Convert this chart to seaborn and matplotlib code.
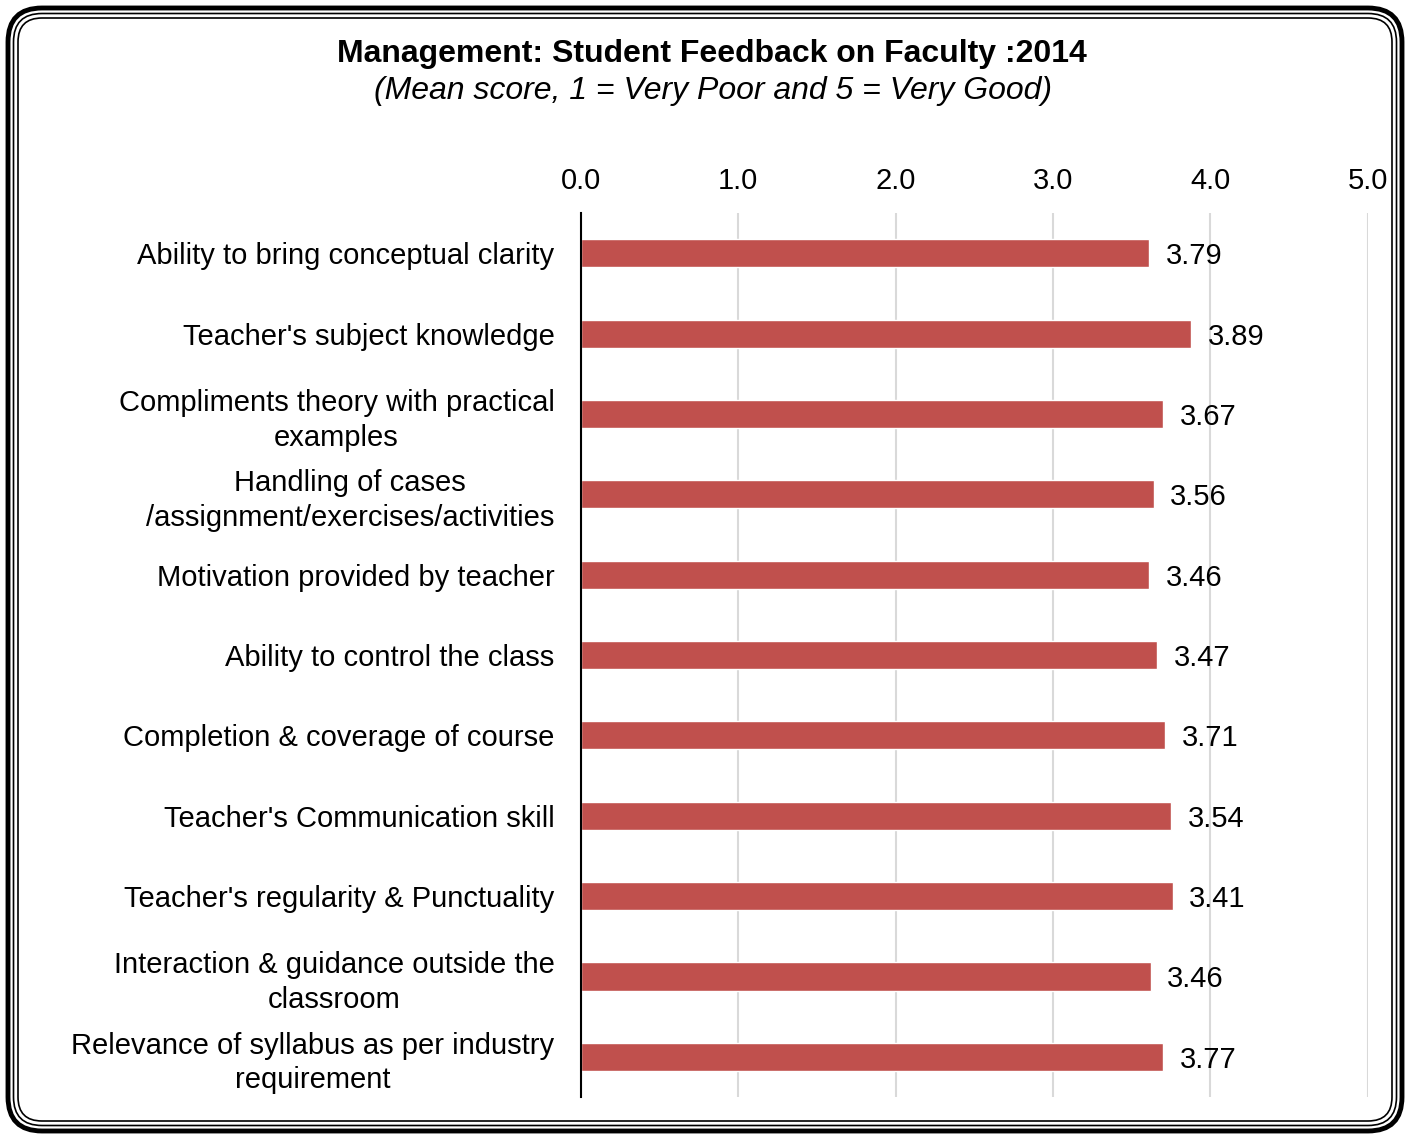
import matplotlib
matplotlib.use('Agg')
import matplotlib.pyplot as plt
from matplotlib.patches import FancyBboxPatch
import pandas as pd
import seaborn as sns

# categories (top to bottom)
items = [
    "Ability to bring conceptual clarity",
    "Teacher's subject knowledge",
    "Compliments theory with practical\nexamples",
    "Handling of cases\n/assignment/exercises/activities",
    "Motivation provided by teacher",
    "Ability to control the class",
    "Completion & coverage of course",
    "Teacher's Communication skill",
    "Teacher's regularity & Punctuality",
    "Interaction & guidance outside the\nclassroom",
    "Relevance of syllabus as per industry\nrequirement",
]
# bar lengths as drawn in the picture
bar_len = [3.61, 3.88, 3.70, 3.64, 3.61, 3.66, 3.71, 3.75, 3.76, 3.62, 3.70]
# data labels as printed
shown = ["3.79", "3.89", "3.67", "3.56", "3.46", "3.47", "3.71", "3.54", "3.41", "3.46", "3.77"]
ticks = [0, 1, 2, 3, 4, 5]

df = pd.DataFrame({'item': items, 'score': bar_len})

sns.set_style("white")
plt.rcParams['font.family'] = ['Liberation Sans', 'DejaVu Sans']
plt.rcParams['text.color'] = 'black'
plt.rcParams['xtick.color'] = 'black'
plt.rcParams['ytick.color'] = 'black'

fig = plt.figure(figsize=(14.1, 11.39), dpi=100)
ax = fig.add_axes([0.412, 0.0369, 0.558, 0.776])

sns.barplot(data=df, x='score', y='item', orient='h', color='#C0504D',
            saturation=1, width=0.35, ax=ax)

ax.set_xlim(0, 5)
ax.set_ylim(len(items) - 0.5, -0.5)
ax.set_xticks(ticks)
ax.set_xticklabels([f"{t:.1f}" for t in ticks], fontsize=21)
ax.xaxis.tick_top()
ax.tick_params(axis='x', length=0, pad=13)
ax.tick_params(axis='y', length=0, pad=19)
for lab in ax.get_yticklabels():
    lab.set_fontsize(21)
    lab.set_multialignment('center')
    lab.set_linespacing(1.3)
ax.set_xlabel('')
ax.set_ylabel('')

ax.grid(axis='x', color='#D9D9D9', linewidth=1.5)
ax.set_axisbelow(True)
for s in ['top', 'right', 'bottom']:
    ax.spines[s].set_visible(False)
ax.spines['left'].set_color('black')
ax.spines['left'].set_linewidth(1.5)
ax.spines['left'].set_zorder(5)

for i, (v, t) in enumerate(zip(bar_len, shown)):
    ax.annotate(t, (v, i), xytext=(12, 0), textcoords='offset points',
                va='center_baseline', ha='left', fontsize=21)

fig.text(0.505, 0.953, "Management: Student Feedback on Faculty :2014",
         ha='center', va='center', fontsize=23, fontweight='bold')
fig.text(0.506, 0.920, "(Mean score, 1 = Very Poor and 5 = Very Good)",
         ha='center', va='center', fontsize=23, style='italic')

# rounded double frame
W, H = 1410, 1139
for off, lw in [(8, 3.5), (13.5, 1.2), (18, 1.2)]:
    fig.patches.append(FancyBboxPatch(
        (off / W, off / H), 1 - 2 * off / W, 1 - 2 * off / H,
        boxstyle=f"round,pad=0,rounding_size={(42 - off) / W}",
        transform=fig.transFigure, fill=False, edgecolor='black',
        linewidth=lw, mutation_aspect=W / H))

fig.savefig('out.png', dpi=100)
